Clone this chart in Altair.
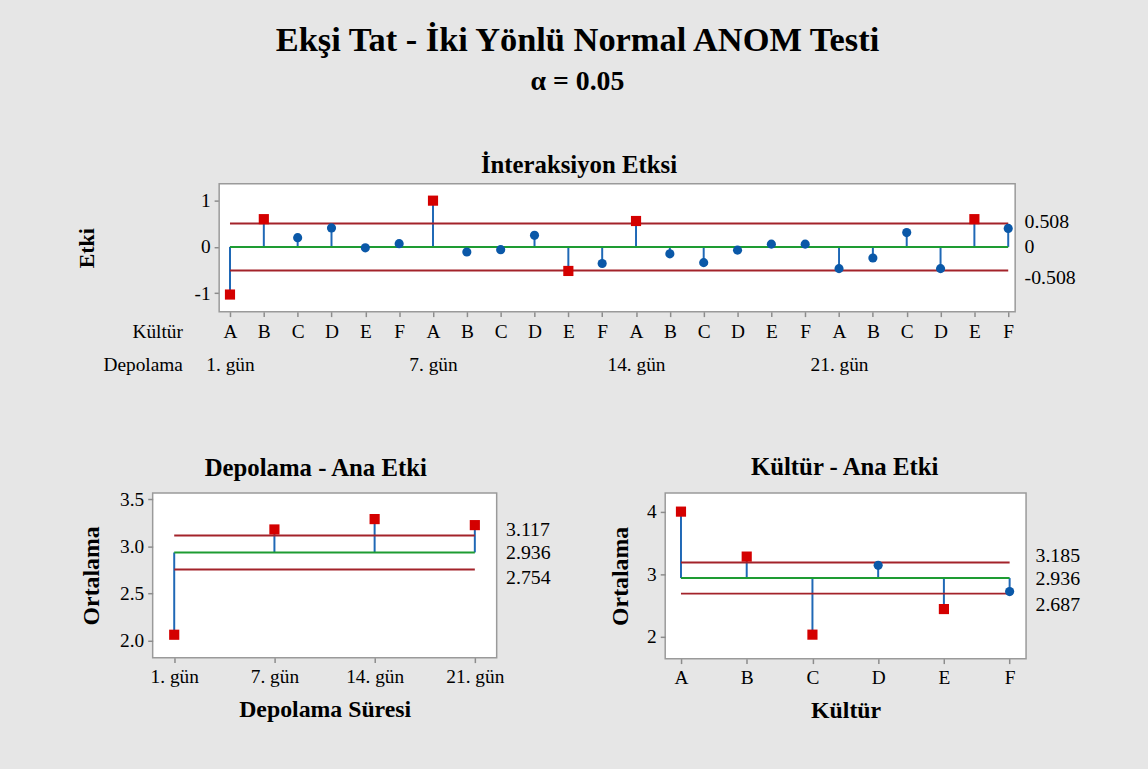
import json
import altair as alt
import pandas as pd

FONT = "Liberation Serif"

# ---------------- data ----------------
kultur = ["A", "B", "C", "D", "E", "F"]
depolama = ["1. gün", "7. gün", "14. gün", "21. gün"]

interaction = [-1.03, 0.60, 0.20, 0.41, -0.02, 0.07,
               1.00, -0.11, -0.06, 0.25, -0.52, -0.36,
               0.56, -0.15, -0.34, -0.07, 0.06, 0.06,
               -0.47, -0.24, 0.31, -0.47, 0.60, 0.40]
int_limits = [-0.508, 0.0, 0.508]

dep_means = [2.063, 3.18, 3.29, 3.226]
dep_limits = [2.754, 2.936, 3.117]

kul_means = [4.00, 3.28, 2.03, 3.14, 2.44, 2.72]
kul_limits = [2.687, 2.936, 3.185]

RED = "#d40000"
BLUE = "#0a58a8"
STEM = "#1f68b6"
GREEN = "#1e9c32"
LIMIT = "#a3232a"
FRAME = "#9a9a9a"
LBL = 19.5


def anom_panel(values, limits, xdomain, ydomain, x_axis, y_axis, right_offsets,
               width, height, title, title_offset, title_dx, frame_x=None):
    lcl, center, ucl = limits
    n = len(values)
    df = pd.DataFrame({"idx": list(range(n)), "value": values})
    df["center"] = center
    df["status"] = ["out" if (v > ucl or v < lcl) else "in" for v in values]
    lines = pd.DataFrame({"x0": [0, 0], "x1": [n - 1, n - 1], "y": [lcl, ucl]})
    cline = pd.DataFrame({"x0": [0], "x1": [n - 1], "y": [center]})

    xs = alt.Scale(domain=xdomain, nice=False, zero=False)
    ys = alt.Scale(domain=ydomain, nice=False, zero=False)

    x_main = alt.X("idx:Q", scale=xs, axis=x_axis)
    x_none = alt.X("idx:Q", scale=xs, axis=None)

    layers = []
    if frame_x is not None:
        frame = pd.DataFrame({"fx0": [frame_x[0]], "fx1": [frame_x[1]],
                              "fy0": [ydomain[0]], "fy1": [ydomain[1]]})
        layers.append(alt.Chart(frame).mark_rect(
            fill="white", stroke=FRAME, strokeWidth=1.5
        ).encode(
            x=alt.X("fx0:Q", scale=xs, axis=None), x2="fx1:Q",
            y=alt.Y("fy0:Q", scale=ys, axis=None), y2="fy1:Q",
        ))

    stems = alt.Chart(df).mark_rule(color=STEM, strokeWidth=2).encode(
        x=x_main,
        y=alt.Y("center:Q", scale=ys, axis=y_axis),
        y2="value:Q",
    )
    lim = alt.Chart(lines).mark_rule(color=LIMIT, strokeWidth=2).encode(
        x=alt.X("x0:Q", scale=xs, axis=None),
        x2="x1:Q",
        y=alt.Y("y:Q", scale=ys, axis=None),
    )
    up, down = right_offsets
    right_axis = alt.Axis(
        orient="right", values=[lcl, center, ucl], ticks=False, domain=False,
        grid=False, title=None, labelPadding=9, labelFontSize=20,
        labelFont=FONT, labelColor="black",
        labelExpr="'' + datum.value",
        labelOffset={"condition": [
            {"test": f"datum.value > {center}", "value": up},
            {"test": f"datum.value < {center}", "value": down},
        ], "value": 0},
    )
    cen = alt.Chart(cline).mark_rule(color=GREEN, strokeWidth=2).encode(
        x=alt.X("x0:Q", scale=xs, axis=None),
        x2="x1:Q",
        y=alt.Y("y:Q", scale=ys, axis=right_axis),
    )
    pts_in = alt.Chart(df).transform_filter("datum.status == 'in'").mark_point(
        shape="circle", filled=True, color=BLUE, size=85, opacity=1
    ).encode(x=x_none, y=alt.Y("value:Q", scale=ys, axis=None))
    pts_out = alt.Chart(df).transform_filter("datum.status == 'out'").mark_point(
        shape="square", filled=True, color=RED, size=105, opacity=1
    ).encode(x=x_none, y=alt.Y("value:Q", scale=ys, axis=None))

    layers += [stems, lim, cen, pts_in, pts_out]
    props = dict(
        width=width, height=height,
        title=alt.TitleParams(title, fontSize=25, font=FONT, fontWeight="bold",
                              anchor="middle", frame="group", offset=title_offset,
                              dx=title_dx, color="black"),
    )
    if frame_x is not None:
        props["view"] = alt.ViewBackground(fill="transparent", stroke="transparent")
    return alt.layer(*layers).resolve_axis(
        x="independent", y="independent"
    ).properties(**props)


common_axis = dict(grid=False, domain=False, tickColor="#8c8c8c", tickSize=5,
                   tickWidth=1.5, labelFont=FONT, labelFontSize=LBL,
                   labelColor="black", titleFont=FONT, titleColor="black")

# ---- top: interaction ----
top_label_expr = (
    f"[{json.dumps(kultur)}[datum.value % 6], datum.value % 6 == 0 ? "
    f"{json.dumps(depolama)}[floor(datum.value / 6)] : '']"
)
top_x_axis = alt.Axis(
    values=list(range(len(interaction))), labelExpr=top_label_expr,
    labelBaseline="top", labelLineHeight=33, labelPadding=6, labelOverlap=False,
    labelFlush=False, labelBound=False,
    title=["Kültür", "Depolama"], titleX=30, titleY=11, titleAlign="right",
    titleBaseline="top", titleLineHeight=33, titleFontSize=LBL,
    titleFontWeight="normal", titleAngle=0, **common_axis,
)
top_y_axis = alt.Axis(
    values=[-1, 0, 1], labelExpr="'' + datum.value", title="Etki",
    titleFontSize=22, titleFontWeight="bold", titleAngle=270, titleX=-134,
    titleBaseline="middle", labelPadding=4, offset=-67, **common_axis,
)
top = anom_panel(interaction, int_limits, [-2.285, 23.205], [-1.40, 1.365],
                 top_x_axis, top_y_axis, (-2, 7), 870, 129,
                 "İnteraksiyon Etksi", 5.5, -5, frame_x=[-0.32, 23.205])

# ---- bottom left: Depolama ----
dep_x_axis = alt.Axis(
    values=list(range(len(depolama))), labelExpr=f"{json.dumps(depolama)}[datum.value]",
    labelBaseline="top", labelPadding=5, labelOverlap=False, labelFlush=False,
    title="Depolama Süresi", titleFontSize=24, titleFontWeight="bold",
    titlePadding=12, **common_axis,
)
dep_y_axis = alt.Axis(
    values=[2.0, 2.5, 3.0, 3.5], format=".1f", title="Ortalama",
    titleFontSize=24, titleFontWeight="bold", titleAngle=270, titleX=-62,
    titleBaseline="middle", labelPadding=4, **common_axis,
)
left = anom_panel(dep_means, dep_limits, [-0.215, 3.218], [1.82, 3.566],
                  dep_x_axis, dep_y_axis, (-6, 8), 347, 166,
                  "Depolama - Ana Etki", 8.5, -9)

# ---- bottom right: Kültür ----
kul_x_axis = alt.Axis(
    values=list(range(len(kultur))), labelExpr=f"{json.dumps(kultur)}[datum.value]",
    labelBaseline="top", labelPadding=5, labelOverlap=False, labelFlush=False,
    title="Kültür", titleFontSize=24, titleFontWeight="bold",
    titlePadding=12, **common_axis,
)
kul_y_axis = alt.Axis(
    values=[2, 3, 4], format="d", title="Ortalama",
    titleFontSize=24, titleFontWeight="bold", titleAngle=270, titleX=-45,
    titleBaseline="middle", labelPadding=4, **common_axis,
)
right = anom_panel(kul_means, kul_limits, [-0.24, 5.25], [1.646, 4.297],
                   kul_x_axis, kul_y_axis, (-7, 11), 364, 167,
                   "Kültür - Ana Etki", 13.5, -1)

chart = alt.vconcat(
    top,
    alt.hconcat(left, right, spacing=57),
    spacing=79,
).properties(
    title=alt.TitleParams(
        "Ekşi Tat - İki Yönlü Normal ANOM Testi",
        subtitle="α = 0.05",
        font=FONT, fontSize=34.7, fontWeight="bold", color="black",
        subtitleFont=FONT, subtitleFontSize=28, subtitleFontWeight="bold",
        subtitleColor="black", subtitlePadding=10,
        anchor="middle", frame="bounds", offset=55.5,
    ),
    background="#e6e6e6",
    padding={"left": 75, "top": 19, "right": 68, "bottom": 47},
).configure_view(
    fill="white", stroke=FRAME, strokeWidth=1.5
)

chart.save("out.html", embed_options={"renderer": "svg", "actions": False})
